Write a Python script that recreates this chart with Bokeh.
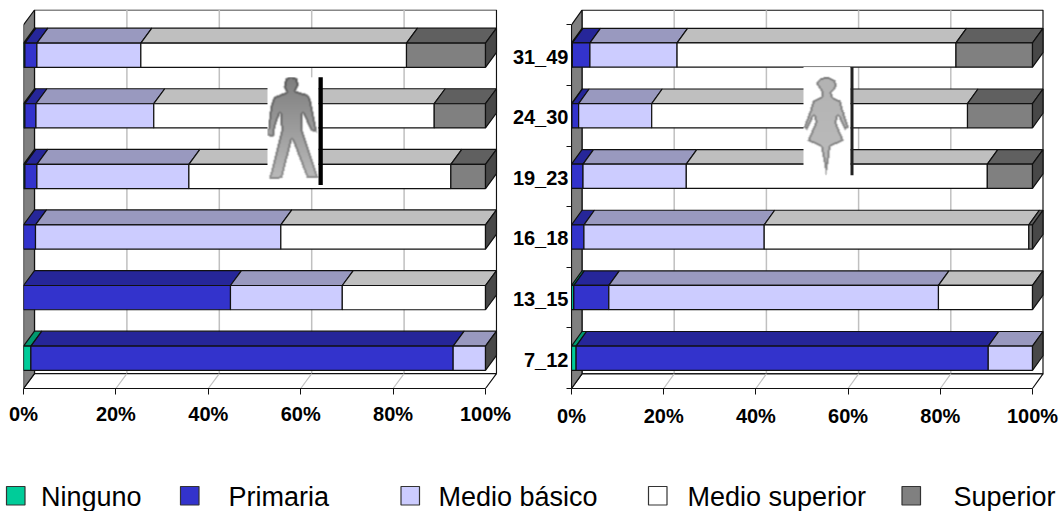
import numpy as np
from bokeh.plotting import figure
from bokeh.layouts import row, column
from bokeh.models import FixedTicker, Range1d
from bokeh.embed import file_html
from bokeh.resources import INLINE
from bokeh.core.properties import value

# ---- data -------------------------------------------------------------
categories = ["7_12", "13_15", "16_18", "19_23", "24_30", "31_49"]
series_names = ["Ninguno", "Primaria", "Medio básico", "Medio superior", "Superior"]
tick_values = [0, 20, 40, 60, 80, 100]
tick_labels = ["0%", "20%", "40%", "60%", "80%", "100%"]

men_ninguno = [1.6, 0.0, 0.0, 0.3, 0.3, 0.3]
men_primaria = [91.4, 44.8, 2.6, 2.6, 2.4, 2.6]
men_basico = [7.0, 24.2, 53.1, 32.9, 25.5, 22.5]
men_superior_m = [0.0, 31.0, 44.3, 56.7, 60.7, 57.5]
men_superior = [0.0, 0.0, 0.0, 7.5, 11.1, 17.1]

women_ninguno = [1.0, 0.5, 0.0, 0.0, 0.1, 0.2]
women_primaria = [89.4, 7.6, 2.7, 2.5, 1.45, 3.8]
women_basico = [9.6, 71.5, 39.1, 22.4, 15.85, 18.9]
women_superior_m = [0.0, 20.4, 57.4, 65.3, 68.5, 60.5]
women_superior = [0.0, 0.0, 0.8, 9.8, 14.1, 16.6]

# ---- styles ------------------------------------------------------------
FRONT = ["#00CC99", "#3333CC", "#CCCCFF", "#FFFFFF", "#808080"]
TOP = ["#00996F", "#262699", "#9999BF", "#BFBFBF", "#606060"]
SIDE = "#484848"
WALL = "#808080"
GRID = "#C0C0C0"
EDGE = "#111111"
FONT = "Liberation Sans"


def chart(rows, width, left, frame_w, top, frame_h, height, px_pct, px_cat, dx_px, dy_px, labels, standoff, **kw):
    p = figure(width=width, height=height, output_backend="svg", toolbar_location=None,
               min_border_left=left, min_border_right=width - left - frame_w,
               min_border_top=top, min_border_bottom=height - top - frame_h,
               x_range=Range1d(0, frame_w / px_pct), y_range=Range1d(0, frame_h / px_cat),
               background_fill_color="white", **kw)
    p.outline_line_color = None
    p.grid.visible = False
    dx, dy = dx_px / px_pct, dy_px / px_cat
    n = len(categories)

    # back wall, floor, side wall
    p.quad(left=[dx], right=[100 + dx], bottom=[dy], top=[n + dy], fill_color="white",
           line_color=EDGE, line_width=1.2)
    for t in tick_values[1:-1]:
        p.line([t + dx, t + dx], [dy, n + dy], line_color=GRID, line_width=1.5)
    p.patch([0, 100, 100 + dx, dx], [0, 0, dy, dy], fill_color="white", line_color=EDGE, line_width=1.2)
    for t in tick_values[1:-1]:
        p.line([t, t + dx], [0, dy], line_color=GRID, line_width=1.2)
    p.patch([0, dx, dx, 0], [0, dy, n + dy, n], fill_color=WALL, line_color=EDGE, line_width=1.2)

    # stacked 3-D bars
    half = 0.2
    for k in range(n):
        c = k + 0.5
        start = 0.0
        for s, vals in enumerate(rows):
            v = vals[k]
            if v <= 0:
                continue
            end = start + v
            p.patch([start, end, end + dx, start + dx], [c + half, c + half, c + half + dy, c + half + dy],
                    fill_color=TOP[s], line_color=EDGE, line_width=1.2)
            p.quad(left=[start], right=[end], bottom=[c - half], top=[c + half],
                   fill_color=FRONT[s], line_color=EDGE, line_width=1.2)
            start = end
        p.patch([100, 100 + dx, 100 + dx, 100], [c - half, c - half + dy, c + half + dy, c + half],
                fill_color=SIDE, line_color=EDGE, line_width=1.2)

    ax = p.xaxis[0]
    ax.ticker = FixedTicker(ticks=tick_values)
    ax.major_label_overrides = dict(zip(tick_values, tick_labels))
    ax.bounds = (0, 100)
    ax.axis_line_color = EDGE
    ax.major_tick_line_color = EDGE
    ax.major_tick_in = 0
    ax.major_tick_out = 6
    ax.minor_tick_line_color = None
    ax.major_label_standoff = standoff
    ax.major_label_text_font = FONT
    ax.major_label_text_font_style = "bold"
    ax.major_label_text_font_size = "20px"
    ax.major_label_text_color = "black"

    ay = p.yaxis[0]
    if labels:
        centers = [i + 0.475 for i in range(n)]
        ay.ticker = FixedTicker(ticks=centers, minor_ticks=list(range(n + 1)))
        ay.major_label_overrides = dict(zip(centers, categories))
        ay.bounds = (0, n)
        ay.axis_line_color = EDGE
        ay.major_tick_line_color = None
        ay.minor_tick_line_color = EDGE
        ay.minor_tick_in = 0
        ay.minor_tick_out = 5
        ay.major_tick_out = 0
        ay.major_tick_in = 0
        ay.major_label_standoff = -2
        ay.major_label_text_font = FONT
        ay.major_label_text_font_style = "bold"
        ay.major_label_text_font_size = "20px"
        ay.major_label_text_color = "black"
    else:
        ay.visible = False
    return p


def to_data(px, py, org_x, floor_y, px_pct, px_cat):
    return [(x - org_x) / px_pct for x in px], [(floor_y - y) / px_cat for y in py]


# silhouettes, outlined in reference pixels
MAN = [(75, 25), (92, 18), (110, 25), (115, 45), (105, 62), (140, 72), (150, 85), (155, 110), (170, 185),
       (152, 180), (125, 125), (125, 175), (170, 310), (175, 320), (140, 322), (95, 205), (65, 322),
       (25, 325), (35, 290), (62, 180), (60, 125), (45, 165), (40, 200), (20, 195), (30, 110), (40, 80),
       (78, 65), (70, 50)]
WOMAN = [(62, 70), (75, 55), (95, 50), (118, 60), (125, 78), (108, 98), (112, 112), (135, 122), (150, 175),
         (160, 205), (148, 212), (128, 170), (122, 190), (145, 245), (105, 262), (100, 300), (92, 350),
         (84, 300), (76, 262), (36, 245), (60, 190), (55, 170), (35, 212), (24, 205), (40, 165), (52, 122),
         (78, 110), (78, 95)]


def blur(a):
    out = a.copy()
    out[1:-1, 1:-1] = (a[:-2, 1:-1] + a[2:, 1:-1] + a[1:-1, :-2] + a[1:-1, 2:] + 2 * a[1:-1, 1:-1]) / 6
    return out


def raster(shape, zx, zy, box, g_top, g_bot, edge_drop):
    """Soft grey pictogram on white, as a small bitmap."""
    bx0, by0, bx1, by1 = box
    w, h = int(bx1 - bx0), int(by1 - by0)
    X, Y = np.meshgrid(bx0 + np.arange(w) + 0.5, by0 + np.arange(h) + 0.5)
    px = np.array([zx + a / 3 for a, _ in shape])
    py = np.array([zy + b / 3 for _, b in shape])
    inside = np.zeros((h, w), dtype=bool)
    for i in range(len(px)):
        x0, y0, x1, y1 = px[i], py[i], px[(i + 1) % len(px)], py[(i + 1) % len(px)]
        if y0 == y1:
            continue
        crosses = (y0 > Y) != (y1 > Y)
        inside ^= crosses & (X < (x1 - x0) * (Y - y0) / (y1 - y0) + x0)
    inner = inside.copy()
    inner[1:-1, 1:-1] = (inside[:-2, 1:-1] & inside[2:, 1:-1] & inside[1:-1, :-2] & inside[1:-1, 2:]
                         & inside[1:-1, 1:-1])
    inner2 = inner.copy()
    inner2[1:-1, 1:-1] = (inner[:-2, 1:-1] & inner[2:, 1:-1] & inner[1:-1, :-2] & inner[1:-1, 2:]
                          & inner[1:-1, 1:-1])
    tone = g_top + (g_bot - g_top) * (Y - by0) / h
    gray = np.where(inside, tone - edge_drop, 255.0)
    gray = np.where(inner2, tone, gray)
    gray = blur(gray)
    gray = np.clip(gray, 0, 255).astype(np.uint32)
    img = (255 << 24) | (gray << 16) | (gray << 8) | gray
    return img[::-1].copy().astype(np.uint32)


def pictogram(p, shape, zx, zy, box, bar, g_top, g_bot, edge_drop, bar_color, map_args):
    bx0, by0, bx1, by1 = box
    org_x, floor_y, px_pct, px_cat = map_args
    img = raster(shape, zx, zy, box, g_top, g_bot, edge_drop)
    p.image_rgba(image=[img], x=(bx0 - org_x) / px_pct, y=(floor_y - by1) / px_cat,
                 dw=(bx1 - bx0) / px_pct, dh=(by1 - by0) / px_cat)
    xs, ys = to_data([bar[0], bar[1], bar[1], bar[0]], [by0, by0, by1, by1], *map_args)
    p.patch(xs, ys, fill_color=bar_color, line_color=None)


men_rows = [men_ninguno, men_primaria, men_basico, men_superior_m, men_superior]
women_rows = [women_ninguno, women_primaria, women_basico, women_superior_m, women_superior]

p1 = chart(men_rows, 512, 23, 474, 8, 380, 438, 4.62, 60.75, 11, 15, False, 8, border_fill_color="white")
pictogram(p1, MAN, 260, 70, (267, 76, 318, 184), (318, 322.3), 125, 190, 45, "#000000",
          (23, 388, 4.62, 60.75))
p2 = chart(women_rows, 555, 63, 473, 9, 382, 438, 4.61, 61.1, 10.5, 14.7, True, 10,
           border_fill_color=None, margin=(0, 0, 0, -4))
pictogram(p2, WOMAN, 795, 60, (803, 67, 850, 176), (850, 853), 178, 188, 55, "#222222",
          (571, 391, 4.61, 61.1))

# ---- legend ------------------------------------------------------------
legend_square_x = [6, 180, 400.5, 648, 901.5]
legend_text_x = [40.5, 228, 438, 687, 953]
p3 = figure(width=1063, height=73, output_backend="svg", toolbar_location=None,
            x_range=Range1d(0, 1063), y_range=Range1d(511, 438),
            min_border_left=0, min_border_right=0, min_border_top=0, min_border_bottom=0,
            border_fill_color="white", background_fill_color="white")
p3.axis.visible = False
p3.grid.visible = False
p3.outline_line_color = None
p3.quad(left=legend_square_x, right=[x + 18.5 for x in legend_square_x], top=[486] * 5, bottom=[504.5] * 5,
        fill_color=FRONT, line_color="#333333", line_width=1.2)
p3.text(x=legend_text_x, y=[496.5] * 5, text=series_names, text_font=value(FONT), text_font_size="27px",
        text_baseline="middle", text_align="left", text_color="black")

layout = column(row(p1, p2, spacing=0), p3, spacing=0)
open("out.html", "w").write(file_html(layout, INLINE))
